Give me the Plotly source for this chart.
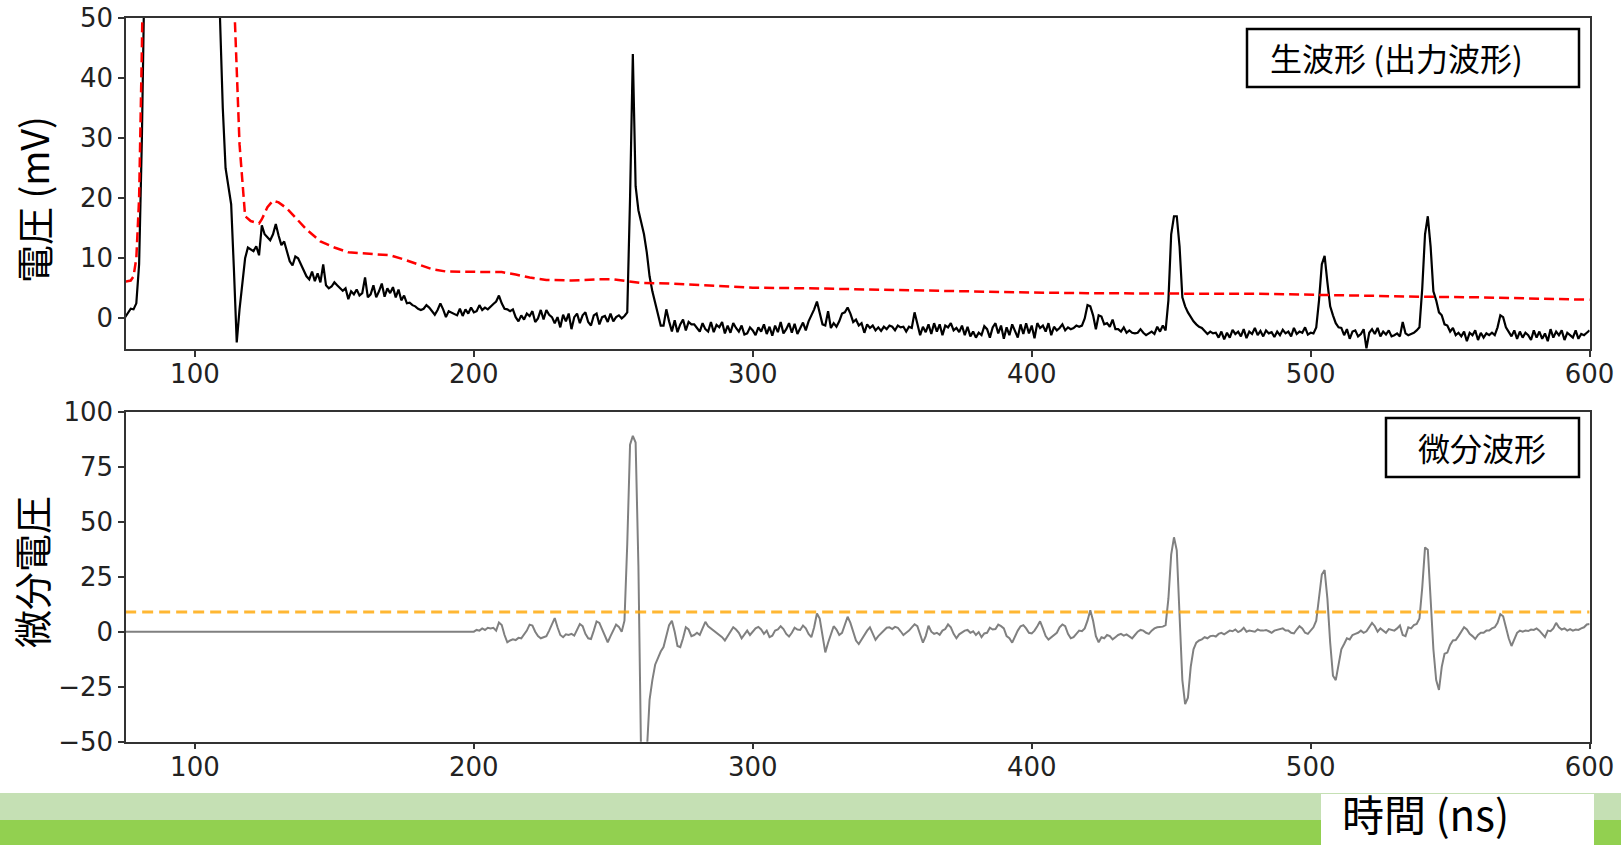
import plotly.graph_objects as go

# ---------------- data ----------------
raw_time = list(range(75, 601))  # ns, 1 ns sampling
raw_voltage = [
    0.2, 1.0, 1.6, 1.5, 2.5, 9, 30, 60, 90, 120,
    150, 150, 150, 150, 150, 150, 150, 150, 150, 150,
    150, 150, 150, 150, 150, 150, 150, 150, 150, 150,
    150, 150, 150, 150, 50, 35, 25, 22, 19, 8,
    -4, 1.5, 6, 10, 11.8, 11.5, 11.2, 12, 10.5, 15.5,
    14, 13.5, 13, 14, 15.7, 13.8, 12.2, 12.8, 11, 9.5,
    8.8, 10.3, 10, 9, 8, 7, 6.5, 7.8, 6.2, 7.5,
    6, 9, 5.5, 5, 5.3, 6, 5.5, 5, 4.6, 5,
    3.2, 4.5, 4, 4.8, 3.8, 4.2, 6.8, 3.5, 4, 5.5,
    3.5, 4.5, 5.8, 3.6, 5, 4.2, 5.2, 3.5, 4.8, 3,
    3.8, 2.5, 2.6, 2.2, 2, 1.6, 1.4, 1.6, 2.2, 1.8,
    1.2, 0.6, 1.4, 2.5, 1.5, 0.2, 1.2, 1, 0.7, 0.5,
    1.6, 0.4, 1.5, 0.8, 1.8, 1, 1.2, 2.2, 1.4, 1.8,
    1.5, 2, 2.4, 2.8, 3.8, 2.5, 1.6, 1.5, 1.2, 1.5,
    0.2, -0.5, 0.5, -0.2, 0.8, 0.4, 1.2, -0.6, 0, 1.4,
    -0.2, 1.4, 0.6, 0.2, -0.8, 0.2, -1.5, 0.6, -0.5, 0.8,
    -1.8, 0.2, 0.8, -0.8, 0.5, 1, -0.6, -1.2, 0.5, 0.8,
    -1, 0.2, 0.4, -0.6, 0.8, -0.5, 0.2, 0.5, 0, 0.4,
    1, 20, 44, 22, 18, 16, 14, 11, 7, 4.5,
    2.5, 0.5, -1.2, -1.2, 1.5, -0.5, -2.2, -0.3, -2.3, -1,
    -0.2, -2, -0.6, -1, -1, -1.6, -2.2, -0.8, -1.8, -2.2,
    -0.6, -2.3, -1.1, -1.5, -0.6, -2.5, -1.2, -2.4, -0.8, -1.6,
    -2.2, -1.2, -2.7, -2.5, -1.5, -2, -2.8, -1.5, -2.2, -1,
    -2.6, -1.4, -2.9, -1.2, -2.3, -0.6, -2.5, -1.8, -0.8, -2.4,
    -0.9, -2.6, -1.5, -0.7, -2, -0.5, 0.5, 1.5, 2.8, 1,
    -1, -1.2, 1.2, -1.6, -0.8, -1.4, -0.5, 0.8, 1, 1.8,
    0.8, -0.6, -0.2, -1.2, -0.8, -2.4, -1, -1.6, -1.2, -2,
    -1.5, -2.1, -1.4, -1.8, -1.2, -1.4, -2, -1.2, -1.5, -1.4,
    -2.2, -1.4, -1.6, 1, -1.2, -2.8, -1.4, -2.3, -1, -2.6,
    -0.8, -2.2, -1, -2.8, -1.2, -1.5, -0.8, -2, -1.6, -2.3,
    -1.2, -2.8, -1.4, -3, -2.2, -3.2, -2.4, -2.8, -1.3, -1.8,
    -3.2, -1.5, -0.8, -2.5, -1.2, -3.4, -1.5, -2.8, -1, -2.2,
    -3.2, -1, -2.6, -0.8, -2.5, -1.2, -3.3, -0.8, -1.6, -1.2,
    -2.2, -0.8, -2.8, -1.4, -2, -1.6, -1, -2, -1.5, -1.8,
    -1.6, -1.2, -1.4, -1.2, 0, 2.2, 2, 0.5, -1.8, 0.5,
    0.3, -1, -0.8, -1.4, -0.2, -1.8, -1.8, -2.2, -1.5, -2.4,
    -2, -2.4, -2.5, -2.4, -1.8, -2.4, -2.8, -2.5, -2.2, -2.6,
    -1.4, -2.2, -1.2, -2, 3, 14, 17, 17, 12, 3.5,
    2, 1, 0.2, -0.5, -1, -1.4, -1.6, -2.2, -2.6, -2.2,
    -2.5, -2.4, -3.2, -2.2, -3.5, -2.4, -3.2, -1.9, -2.6, -2.2,
    -3, -1.8, -3.3, -2.2, -2.6, -1.6, -2.8, -2.1, -3, -2,
    -2.5, -2.3, -3.1, -2.2, -2.8, -1.9, -2.5, -2.2, -3, -1.6,
    -2.6, -2.2, -2.4, -1.5, -2.7, -2.4, -2.5, -1.5, 3, 9,
    10.4, 6, 2, 0.5, -0.8, -1.5, -1.6, -2.8, -1.8, -3.4,
    -2.2, -2, -3, -2.6, -1.8, -5, -2.4, -1.8, -2.6, -1.6,
    -3, -2.2, -2.7, -2, -3, -2.8, -2.5, -3, -0.6, -2.5,
    -2.8, -2.6, -2.4, -2, -1.5, 5, 14, 17, 12, 4.5,
    3, 1, 0.5, -1, -1.2, -2.2, -1.6, -2.8, -2.4, -3,
    -2.2, -3.8, -2.4, -2.8, -2, -3.6, -2.4, -3.2, -2.5, -2.8,
    -2.4, -2.8, -1.5, 0.5, 0.2, -1.5, -2.2, -3, -2, -3.4,
    -2.2, -3.2, -2.4, -2.8, -3.6, -2, -3.2, -2.2, -3.4, -2.5,
    -3.8, -1.8, -3.2, -2.2, -2.8, -2, -3.6, -2.4, -2.8, -3.2,
    -2, -3.4, -2.6, -2.8, -2.4, -2,
]

envelope_time = [75, 77, 78, 79, 80, 81, 82, 85, 110, 113, 114.3, 116, 118, 120, 123,
                 124, 126, 128, 130, 133, 136, 140, 145, 150, 155, 160, 170, 175, 180,
                 185, 190, 200, 210, 215, 220, 226, 235, 245, 250, 255, 260, 270, 280,
                 290, 300, 320, 340, 360, 380, 400, 420, 440, 460, 480, 500, 520, 540,
                 560, 580, 600]
envelope_voltage = [6.1, 6.3, 7, 10, 20, 45, 80, 150, 150, 80, 50, 29, 17, 16.2, 15.8,
                    16.5, 18.5, 19.6, 19.3, 18.3, 16.8, 14.8, 12.8, 11.8, 11, 10.8, 10.5, 9.8, 9,
                    8.2, 7.8, 7.7, 7.7, 7.3, 6.8, 6.4, 6.3, 6.5, 6.5, 6.2, 5.9, 5.8, 5.6,
                    5.3, 5.1, 5.0, 4.8, 4.6, 4.5, 4.3, 4.2, 4.1, 4.1, 4.1, 3.9, 3.7, 3.6,
                    3.5, 3.3, 3.1]

deriv_time = [75] + list(range(200, 601))
deriv_values = [0,
    0, 0.8, 0.5, 1.5, 0.8, 1.8, 1.5, 1.8, 0.5, 4.2,
    3, -1.5, -4.8, -4, -3.5, -3.8, -2.8, -3, -1.5, 0.5,
    3.2, 2.8, 0, -2, -3, -2.6, -2, 0.5, 3, 6.2,
    2, -1.5, -2.5, -1.2, -1.5, -1, -1.8, 1, 3.5, 2.5,
    -1, -3, -3.3, 0.5, 4.7, 4, 1, -2.5, -4.8, -2,
    1, 3.2, 2.2, 0, 5, 40, 85, 89, 86, 30,
    -60, -80, -55, -31, -22, -15, -12, -9, -7, -2,
    3, 5, 0, -6.5, -7, -3, 2, 1, -2, -1.5,
    -0.5, -1.5, 1.5, 4.5, 2.5, 1.5, 0.5, -0.5, -1.5, -2.5,
    -4, -2, 0, 2, 1, -0.5, -3, -1, 0.5, -1.5,
    -0.2, 1.5, 2.2, 1, -1, 0.5, -2.5, -1.8, 0.5, 1,
    2.5, 1.2, -1, -2.2, -0.5, 1.8, 1, 0.8, 2.8, 1.5,
    -1, -2.5, 2, 8.3, 6, -2, -9.4, -5, -1, 2.5,
    1, -1.5, -0.5, 3, 6.8, 4, 0, -4, -5.6, -3.5,
    -1, 0.5, 2, -1, -3.7, -2, -0.8, 0.5, 1.8, 2,
    1.2, 2.2, 1.8, 0.2, -1.5, -0.5, 0.5, 2, 3.4, 2.5,
    -1, -5, -2, 2.7, 0, -1, -0.5, -1.4, 0.5, 1.2,
    3.3, 2, -1, -3, -1.2, -0.2, 0.5, 0.8, -0.5, 0.2,
    -1.5, -0.2, -2.5, -0.8, -0.5, 1.8, 1, 1.2, 3.2, 2.5,
    1.5, -2, -3, -5, -2, 0.5, 2.5, 3, 1.5, -0.5,
    -0.8, 0.5, 2.5, 4.7, 1.5, -2, -3.6, -2.5, -1.5, -0.5,
    2, 3.3, 2.5, -1, -3, -2.5, -1, 0.5, 0.2, 1.5,
    5, 9.8, 5, -2, -4.8, -2.5, -3, -1.5, -2, -3.5,
    -2.5, -1.5, -1, -1.8, -1.2, -2, -3, -1.5, 0, 0.8,
    0.5, -0.5, -1, 0.5, 1.5, 2, 2.2, 2.3, 3, 15,
    35, 42.9, 37, 5, -22, -32.9, -30, -16, -8, -5,
    -4, -3.5, -2.5, -3, -2, -1.8, -2.2, -1, -0.5, -1.2,
    -0.5, 0.5, 0.2, 1, -0.2, 0.5, 1.8, 0, 0.5, 0.2,
    0, 1, 0.5, 0.5, 0.8, 0.2, -0.5, 0.5, 0.8, 1,
    1.5, 0.5, 0.5, -0.5, -0.8, 1, 2.5, 1.5, -0.5, -1,
    0.5, 2, 5, 15, 26, 28, 15, -5, -20, -22,
    -14, -8, -5.6, -3, -3.5, -1.5, -1, -0.5, 0.5, -0.5,
    0.2, 2, 4, 2.5, 0, 1.5, 0.5, -0.5, 1.2, 1,
    0.5, 1.5, 2.8, -1.5, -2, 2, 1.5, 3, 3.5, 6,
    20, 38.3, 37.3, 15, -8, -22, -26.5, -16, -10, -9.5,
    -6, -4, -3.8, -2, 0, 2, 1, -1, -2, -3.3,
    -1.5, -0.5, -0.5, 0.5, 0.5, 1.5, 2, 4, 8, 7,
    2, -3, -6.5, -3, -0.5, 0.5, 0, 0.5, 0.3, 1,
    0.8, 1.5, 0.5, -1, -2.5, 0.5, 0.2, 1.5, 4, 2,
    1, 1.5, 0.5, 1.2, 0.5, 1, 0.8, 1.5, 2, 3.3,
    3.5,
]

threshold = 9
threshold_span = [75, 600]

x_ticks = [100, 200, 300, 400, 500, 600]
y1_ticks = [0, 10, 20, 30, 40, 50]
y2_ticks = [-50, -25, 0, 25, 50, 75, 100]

top_label = "生波形 (出力波形)"
bottom_label = "微分波形"
y1_title = "電圧 (mV)"
y2_title = "微分電圧"
x_title = "時間 (ns)"

# ---------------- layout helpers ----------------
W, H = 1621, 845
def fx(p):
    return p / W
def fy(p):
    return 1 - p / H

fig = go.Figure()
fig.add_trace(go.Scatter(x=raw_time, y=raw_voltage, mode="lines",
                         line=dict(color="black", width=2.2), xaxis="x", yaxis="y"))
fig.add_trace(go.Scatter(x=envelope_time, y=envelope_voltage, mode="lines",
                         line=dict(color="#ff0000", width=2.5, dash="10px,5px"),
                         xaxis="x", yaxis="y"))
fig.add_trace(go.Scatter(x=deriv_time, y=deriv_values, mode="lines",
                         line=dict(color="#808080", width=2), xaxis="x2", yaxis="y2"))
fig.add_trace(go.Scatter(x=threshold_span, y=[threshold, threshold], mode="lines",
                         line=dict(color="rgba(255,165,0,0.8)", width=3, dash="11px,6px"),
                         xaxis="x2", yaxis="y2"))

axis_common = dict(showline=True, mirror=True, linecolor="#333", linewidth=1.5,
                   ticks="outside", ticklen=6, tickwidth=1.5, tickcolor="#333",
                   showgrid=False, zeroline=False, automargin=False,
                   tickfont=dict(family="DejaVu Sans", size=26, color="#222"))

fig.update_layout(
    width=W, height=H, autosize=False,
    margin=dict(l=0, r=0, t=0, b=0, pad=0, autoexpand=False),
    paper_bgcolor="white", plot_bgcolor="white", showlegend=False,
    xaxis=dict(domain=[fx(126), fx(1589.6)], range=[75.3, 600], tickvals=x_ticks,
               anchor="y", ticklabelstandoff=-5, **axis_common),
    yaxis=dict(domain=[fy(349), fy(18)], range=[-5.1, 50], tickvals=y1_ticks,
               anchor="x", **axis_common),
    xaxis2=dict(domain=[fx(126), fx(1589.6)], range=[75.3, 600], tickvals=x_ticks,
                anchor="y2", ticklabelstandoff=-5, **axis_common),
    yaxis2=dict(domain=[fy(741.7), fy(411.7)], range=[-50, 100], tickvals=y2_ticks,
                anchor="x2", **axis_common),
)

shapes = [
    # green bands at the bottom
    dict(type="rect", xref="paper", yref="paper", x0=0, x1=1, y0=fy(820), y1=fy(793),
         fillcolor="#c5e0b4", line=dict(width=0), layer="below"),
    dict(type="rect", xref="paper", yref="paper", x0=0, x1=1, y0=0, y1=fy(820),
         fillcolor="#92d050", line=dict(width=0), layer="below"),
    dict(type="rect", xref="paper", yref="paper", x0=fx(1321), x1=fx(1594), y0=0, y1=fy(794),
         fillcolor="white", line=dict(width=0), layer="below"),
    # label boxes
    dict(type="rect", xref="paper", yref="paper", x0=fx(1247), x1=fx(1579), y0=fy(87), y1=fy(29),
         fillcolor="white", line=dict(color="black", width=2.5)),
    dict(type="rect", xref="paper", yref="paper", x0=fx(1386), x1=fx(1579), y0=fy(477), y1=fy(418),
         fillcolor="white", line=dict(color="black", width=2.5)),
]
fig.update_layout(shapes=shapes)

cjk = "Noto Sans CJK JP"
annotations = [
    dict(text=top_label, x=fx(1268), y=fy(57), xref="paper", yref="paper",
         xanchor="left", yanchor="middle", showarrow=False,
         font=dict(family=cjk, size=32, color="black")),
    dict(text=bottom_label, x=fx(1482), y=fy(447), xref="paper", yref="paper",
         xanchor="center", yanchor="middle", showarrow=False,
         font=dict(family=cjk, size=32, color="black")),
    dict(text=y1_title, x=fx(32), y=fy(200), xref="paper", yref="paper", textangle=-90,
         xanchor="center", yanchor="middle", showarrow=False,
         font=dict(family=cjk, size=38, color="black")),
    dict(text=y2_title, x=fx(30), y=fy(572), xref="paper", yref="paper", textangle=-90,
         xanchor="center", yanchor="middle", showarrow=False,
         font=dict(family=cjk, size=38, color="black")),
    dict(text=x_title, x=fx(1425), y=0, xref="paper", yref="paper",
         xanchor="center", yanchor="bottom", showarrow=False,
         font=dict(family=cjk, size=42, color="black")),
]
fig.update_layout(annotations=annotations)

fig.write_html("out.html")
